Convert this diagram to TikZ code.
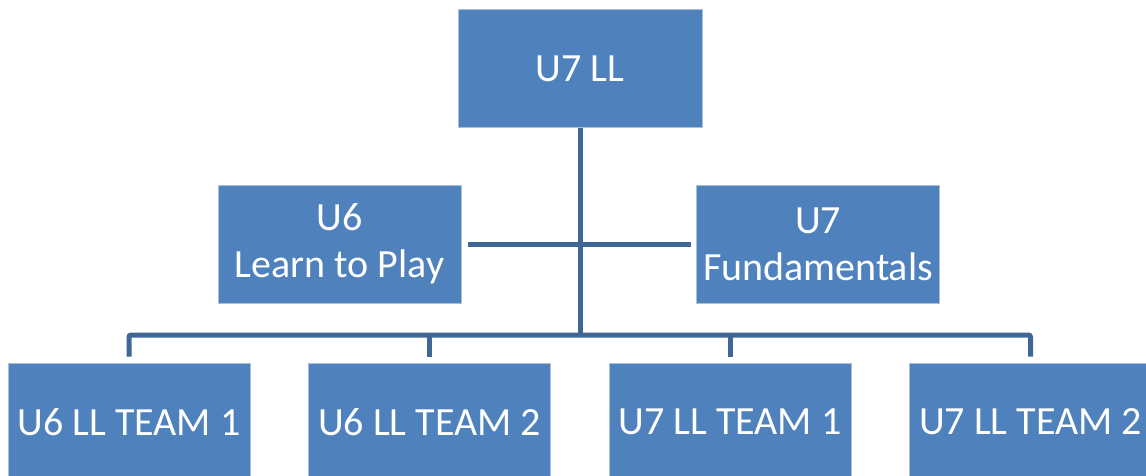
\documentclass[tikz,border=0pt]{standalone}
\usepackage{fontspec}
\setmainfont{Carlito}
\definecolor{boxfill}{RGB}{79,129,189}
\definecolor{boxedge}{RGB}{168,192,222}
\definecolor{conncol}{RGB}{63,103,150}
\begin{document}
\begin{tikzpicture}[x=1pt,y=-1pt,
  orgbox/.style={rectangle, fill=boxfill, draw=boxedge, line width=1pt,
    minimum width=242pt, minimum height=118pt, inner sep=0pt,
    text=white, align=center, font=\fontsize{40}{47}\selectfont},
  conn/.style={draw=conncol, line width=5pt, rounded corners=2pt}]
\useasboundingbox (0,0) rectangle (1146,476);
\clip (0,0) rectangle (1146,476);
\node[orgbox, minimum width=244pt] (root) at (580,69) {U7 LL};
\node[orgbox, minimum width=243pt] (left) at (339.5,244) {U6\\Learn to Play};
\node[orgbox, minimum width=243pt] (right) at (818,244) {U7\\Fundamentals};
\node[orgbox] (b1) at (129,422) {U6 LL TEAM 1};
\node[orgbox] (b2) at (429.5,422) {U6 LL TEAM 2};
\node[orgbox] (b3) at (730,422) {U7 LL TEAM 1};
\node[orgbox] (b4) at (1030.5,422) {U7 LL TEAM 2};
\coordinate (hub) at (580,335);
\draw[conn] (root.south) -- (hub);
\draw[conn] ([xshift=6pt]left.east) -- ([xshift=-5pt]right.west);
\draw[conn] ([yshift=6pt]b1.north) |- (hub) -| ([yshift=6pt]b4.north);
\draw[conn] ([yshift=6pt]b2.north) -- (b2.north |- hub);
\draw[conn] ([yshift=6pt]b3.north) -- (b3.north |- hub);
\end{tikzpicture}
\end{document}
